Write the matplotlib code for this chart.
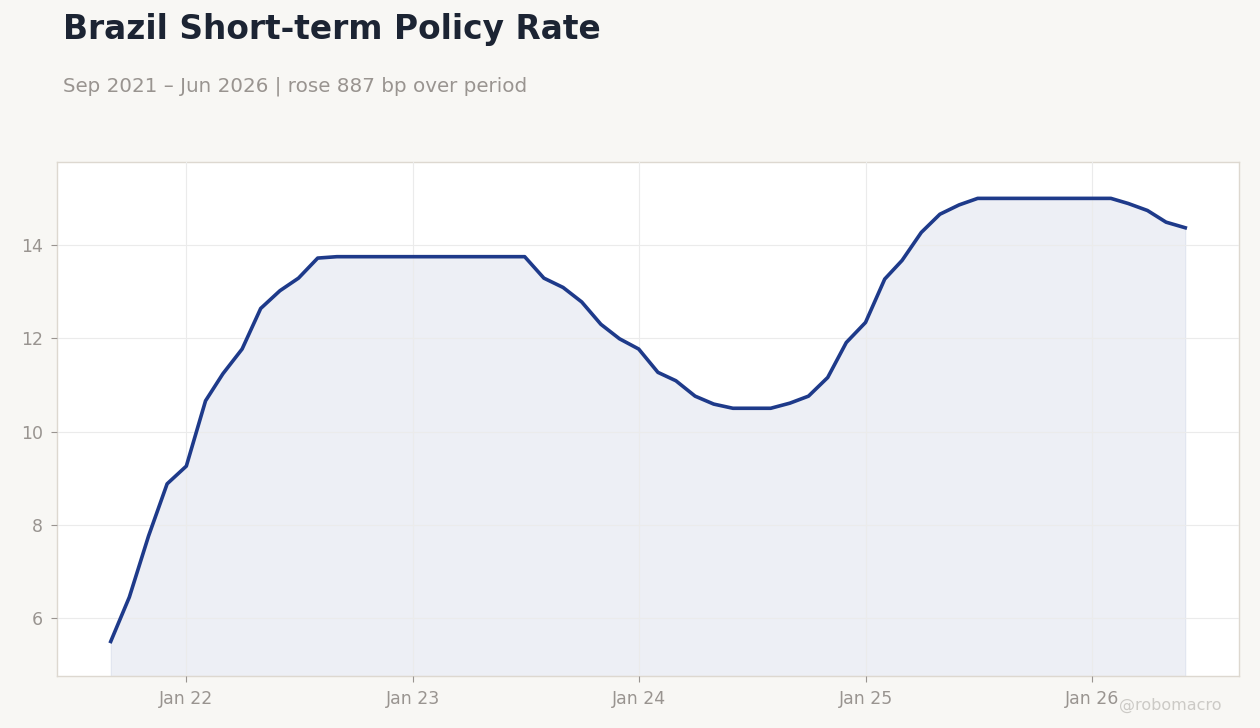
import pandas as pd
import matplotlib.pyplot as plt
import matplotlib.dates as mdates

# 月次データ (Sep 2021 - Jun 2026)
months = pd.date_range("2021-09-01", "2026-06-01", freq="MS")
rate = [5.50, 6.45, 7.76, 8.88, 9.26, 10.66, 11.24, 11.77, 12.64, 13.02,
        13.29, 13.72, 13.75, 13.75, 13.75, 13.75, 13.75, 13.75, 13.75, 13.75,
        13.75, 13.75, 13.75, 13.29, 13.09, 12.78, 12.30, 11.99, 11.77, 11.27,
        11.09, 10.76, 10.59, 10.50, 10.50, 10.50, 10.61, 10.76, 11.16, 11.91,
        12.34, 13.27, 13.67, 14.27, 14.66, 14.86, 15.00, 15.00, 15.00, 15.00,
        15.00, 15.00, 15.00, 15.00, 14.89, 14.74, 14.49, 14.37]

title = "Brazil Short-term Policy Rate"
subtitle = "Sep 2021 \u2013 Jun 2026 | rose 887 bp over period"

bg = "#f8f7f4"
line_c = "#1e3a8a"
txt_c = "#999490"

fig = plt.figure(figsize=(12.6, 7.28), dpi=100, facecolor=bg)
ax = fig.add_axes([57 / 1260, 1 - 676 / 728, (1239 - 57) / 1260, (676 - 162) / 728])
ax.set_facecolor("white")

ylo, yhi = 4.76, 15.78
ax.fill_between(months, rate, ylo, color=line_c, alpha=0.08, linewidth=0.8)
ax.plot(months, rate, color=line_c, linewidth=2.6, zorder=3)

ax.set_ylim(ylo, yhi)
ax.margins(x=0.05)
ax.set_yticks([6, 8, 10, 12, 14])
ax.xaxis.set_major_locator(mdates.YearLocator())
ax.xaxis.set_major_formatter(mdates.DateFormatter("%b %y"))

ax.grid(True, color="#ebebeb", linewidth=0.8, zorder=0)
ax.set_axisbelow(False)
for s in ax.spines.values():
    s.set_color("#ddd8d0")
    s.set_linewidth(1.0)
ax.tick_params(colors="#999490", labelcolor=txt_c, labelsize=12.5, length=4, width=0.8)
ax.tick_params(axis="x", pad=6)
ax.tick_params(axis="y", pad=6)

fig.text(63 / 1260, 1 - 29 / 728, title, fontsize=23.7, fontweight="bold",
         color="#1c2433", va="center", ha="left")
fig.text(63 / 1260, 1 - 86 / 728, subtitle, fontsize=14.3, color=txt_c,
         va="center", ha="left")
fig.text(1222 / 1260, 1 - 705 / 728, "@robomacro", fontsize=11.5, color="#cccac6",
         va="center", ha="right")

fig.savefig("out.png", dpi=100, facecolor=bg)
